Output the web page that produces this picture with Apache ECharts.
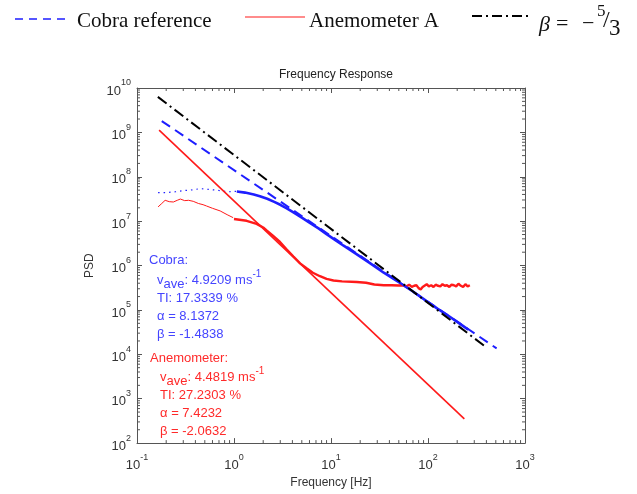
<!DOCTYPE html>
<html><head><meta charset="utf-8">
<script src="https://cdn.jsdelivr.net/npm/echarts@6/dist/echarts.min.js"></script>
<style>html,body{margin:0;padding:0;background:#fff}#c{width:637px;height:494px}</style>
</head><body><div id="c"></div>
<script>
// ---- data ----
const cobraFitF = [0.18, 510];
const cobraFitP = [1.8e9, 1.36e4];
const anemFitF = [0.169, 237];
const anemFitP = [1.12e9, 350];
const refF = [0.164, 403];
const refP = [6.3e9, 1.41e4];

const cobraLowF = [0.165, 0.2, 0.25, 0.3, 0.35, 0.4, 0.45, 0.5, 0.6, 0.7, 0.8, 0.9, 1.0, 1.07];
const cobraLowP = [4.4e7, 4.4e7, 4.6e7, 4.9e7, 5.0e7, 5.2e7, 5.4e7, 5.3e7, 5.1e7, 4.9e7, 4.7e7, 4.6e7, 4.7e7, 4.7e7];
const cobraHighF = [1.07, 1.3, 1.6, 1.85, 2.2, 2.6, 3.0, 3.5, 4.1, 5, 6, 7.5, 9, 11, 13.5, 18, 25, 35, 51, 70, 100, 125, 155, 200, 260];
const cobraHighP = [4.68e7, 4.4e7, 4.0e7, 3.65e7, 3.2e7, 2.72e7, 2.34e7, 1.95e7, 1.58e7, 1.2e7, 9.3e6, 6.8e6, 5.1e6, 3.8e6, 2.8e6, 1.86e6, 1.15e6, 6.9e5, 4.1e5, 2.6e5, 1.5e5, 1.07e5, 7.9e4, 5.4e4, 3.6e4];

const anemLowF = [0.165, 0.18, 0.195, 0.215, 0.237, 0.26, 0.28, 0.31, 0.34, 0.38, 0.43, 0.48, 0.52, 0.6, 0.72, 0.85, 0.98];
const anemLowP = [2.1e7, 2.5e7, 2.95e7, 2.75e7, 2.7e7, 2.95e7, 3.15e7, 2.9e7, 2.95e7, 2.8e7, 2.5e7, 2.35e7, 2.2e7, 1.95e7, 1.7e7, 1.4e7, 1.2e7];
const anemHighF = [1.0, 1.35, 1.71, 2.0, 2.17, 2.5, 2.98, 3.5, 4.1, 4.8, 5.6, 6.5, 7.7, 9, 10.6, 13, 18.4, 23, 28, 35, 42, 50,
  55, 60, 64, 68, 72, 76, 80, 84, 88, 92, 97, 102, 108, 114, 120, 127, 134, 141, 149, 157, 166, 175, 185, 195, 206, 218, 230, 243, 256, 270];
const anemHighP = [1.12e7, 1.02e7, 8.7e6, 7.2e6, 6.2e6, 4.8e6, 3.4e6, 2.3e6, 1.6e6, 1.12e6, 8.7e5, 6.9e5, 5.75e5, 5.0e5, 4.6e5, 4.4e5, 4.25e5, 4.1e5, 3.75e5, 3.6e5, 3.6e5, 3.55e5,
  3.6e5, 3.4e5, 3.7e5, 3.3e5, 3.5e5, 3.6e5, 3.1e5, 2.9e5, 3.3e5, 3.5e5, 3.8e5, 3.4e5, 3.6e5, 3.3e5, 3.7e5, 3.5e5, 3.4e5, 3.8e5, 3.5e5, 3.6e5, 3.3e5, 3.7e5, 3.6e5, 3.4e5, 3.9e5, 3.5e5, 3.3e5, 3.8e5, 3.4e5, 3.6e5];

const xDecades = [-1, 0, 1, 2];          // decades that carry minor ticks
const yDecades = [2, 3, 4, 5, 6, 7, 8, 9];
const minorMult = [2, 3, 4, 5, 6, 7, 8, 9];
const X_MIN = 0.1, X_MAX = 1000, Y_MIN = 100, Y_MAX = 1e10;

const zip = (a, b) => a.map((v, i) => [v, b[i]]);
const BLUE = '#1e1eff', RED = '#ff1a1a', AXIS = '#555';
const minorX = [], minorY = [];
xDecades.forEach(k => minorMult.forEach(m => minorX.push([m * Math.pow(10, k), Y_MIN])));
yDecades.forEach(k => minorMult.forEach(m => minorY.push([X_MIN, m * Math.pow(10, k)])));

const supLabel = {
  b: { fontSize: 13, color: '#333', fontFamily: 'Liberation Sans', verticalAlign: 'bottom', lineHeight: 19 },
  s: { fontSize: 9, color: '#333', fontFamily: 'Liberation Sans', verticalAlign: 'top', lineHeight: 19 }
};
const expFmt = v => '{b|10}{s|' + Math.round(Math.log10(v)) + '}';

const axisCommon = {
  type: 'log', logBase: 10,
  axisLine: { show: true, lineStyle: { color: AXIS, width: 1 } },
  axisTick: { show: true, inside: true, length: 5, lineStyle: { color: AXIS } },
  minorTick: { show: false },
  splitLine: { show: false }, minorSplitLine: { show: false }
};

function tickLine(x1, y1, x2, y2) {
  return { type: 'line', shape: { x1, y1, x2, y2 }, style: { stroke: AXIS, lineWidth: 1 } };
}

const TXT = 13;
const sansFont = TXT + 'px "Liberation Sans"';
function annot(x, y, text, color) {
  return { type: 'text', x, y, style: { text, font: sansFont, fill: color, verticalAlign: 'middle' } };
}
function vave(x, y, val, color) {
  return { type: 'text', x, y, style: { text: '{b|v}{s|ave}{b|: ' + val + ' ms}{p|-1}', verticalAlign: 'middle',
    rich: {
      b: { font: sansFont, fill: color, verticalAlign: 'middle', lineHeight: 22 },
      s: { font: sansFont, fill: color, verticalAlign: 'bottom', lineHeight: 22 },
      p: { font: '10px "Liberation Sans"', fill: color, verticalAlign: 'top', lineHeight: 22 }
    } } };
}

const CB = '#4444ff', CR = '#ff2a2a';
const serif = s => s + 'px "Liberation Serif"';

const chart = echarts.init(document.getElementById('c'), null, { renderer: 'canvas' });
chart.setOption({
  animation: false,
  backgroundColor: '#fff',
  title: {
    text: 'Frequency Response', left: 331, top: 64, textAlign: 'center',
    textStyle: { fontSize: 12, fontWeight: 'normal', color: '#222', fontFamily: 'Liberation Sans' }
  },
  grid: { left: 137, right: 112, top: 88, bottom: 44, containLabel: false },
  xAxis: [
    Object.assign({}, axisCommon, {
      min: X_MIN, max: X_MAX, position: 'bottom',
      name: 'Frequency [Hz]', nameLocation: 'middle', nameGap: 30,
      nameTextStyle: { fontSize: 12, color: '#333', fontFamily: 'Liberation Sans' },
      axisLabel: { formatter: expFmt, rich: supLabel, margin: 10 }
    }),
    Object.assign({}, axisCommon, { min: X_MIN, max: X_MAX, position: 'top', axisLabel: { show: false } })
  ],
  yAxis: [
    Object.assign({}, axisCommon, {
      min: Y_MIN, max: Y_MAX, position: 'left',
      name: 'PSD', nameLocation: 'middle', nameGap: 37, nameRotate: 90,
      nameTextStyle: { fontSize: 12, color: '#333', fontFamily: 'Liberation Sans' },
      axisLabel: { formatter: expFmt, rich: supLabel, margin: 6 }
    }),
    Object.assign({}, axisCommon, { min: Y_MIN, max: Y_MAX, position: 'right', axisLabel: { show: false } })
  ],
  series: [
    { name: 'minorX', type: 'custom', data: minorX, silent: true, clip: false, z: 10,
      renderItem: (params, api) => {
        const b = api.coord([api.value(0), Y_MIN]), t = api.coord([api.value(0), Y_MAX]);
        return { type: 'group', children: [tickLine(b[0], b[1], b[0], b[1] - 3), tickLine(t[0], t[1], t[0], t[1] + 3)] };
      } },
    { name: 'minorY', type: 'custom', data: minorY, silent: true, clip: false, z: 10,
      renderItem: (params, api) => {
        const l = api.coord([X_MIN, api.value(1)]), r = api.coord([X_MAX, api.value(1)]);
        return { type: 'group', children: [tickLine(l[0], l[1], l[0] + 3, l[1]), tickLine(r[0], r[1], r[0] - 3, r[1])] };
      } },
    { name: 'Cobra data low', type: 'line', data: zip(cobraLowF, cobraLowP), symbol: 'none',
      lineStyle: { color: BLUE, width: 1.2, type: [1.5, 4] } },
    { name: 'Cobra data high', type: 'line', data: zip(cobraHighF, cobraHighP), symbol: 'none',
      lineStyle: { color: BLUE, width: 2.6 } },
    { name: 'Anemometer data low', type: 'line', data: zip(anemLowF, anemLowP), symbol: 'none',
      lineStyle: { color: RED, width: 1 } },
    { name: 'Anemometer data high', type: 'line', data: zip(anemHighF, anemHighP), symbol: 'none',
      lineStyle: { color: RED, width: 2.4 } },
    { name: 'Cobra reference', type: 'line', data: zip(cobraFitF, cobraFitP), symbol: 'none',
      lineStyle: { color: BLUE, width: 2, type: [10, 6] } },
    { name: 'Anemometer A', type: 'line', data: zip(anemFitF, anemFitP), symbol: 'none',
      lineStyle: { color: RED, width: 1.6 } },
    { name: 'beta', type: 'line', data: zip(refF, refP), symbol: 'none',
      lineStyle: { color: '#000', width: 2, type: [11, 4, 2, 4] } }
  ],
  graphic: [
    // legend
    { type: 'line', shape: { x1: 15, y1: 19, x2: 66, y2: 19 }, style: { stroke: BLUE, lineWidth: 1.5, lineDash: [8, 6] } },
    { type: 'text', x: 77, y: 21, style: { text: 'Cobra reference', font: serif(21), fill: '#111', verticalAlign: 'middle' } },
    { type: 'line', shape: { x1: 245, y1: 17, x2: 305, y2: 17 }, style: { stroke: RED, lineWidth: 1.2 } },
    { type: 'text', x: 309, y: 21, style: { text: 'Anemometer A', font: serif(21), fill: '#111', verticalAlign: 'middle' } },
    { type: 'line', shape: { x1: 472, y1: 16, x2: 528, y2: 16 }, style: { stroke: '#000', lineWidth: 2, lineDash: [10, 4, 2, 4] } },
    { type: 'text', x: 539, y: 25, style: { text: 'β', font: 'italic ' + serif(22), fill: '#111', verticalAlign: 'middle' } },
    { type: 'text', x: 556, y: 24, style: { text: '=', font: serif(22), fill: '#111', verticalAlign: 'middle' } },
    { type: 'text', x: 582, y: 24, style: { text: '−', font: serif(22), fill: '#111', verticalAlign: 'middle' } },
    { type: 'text', x: 597, y: 12, style: { text: '5', font: serif(17), fill: '#111', verticalAlign: 'middle' } },
    { type: 'text', x: 603, y: 21, style: { text: '/', font: serif(24), fill: '#111', verticalAlign: 'middle' } },
    { type: 'text', x: 609, y: 29, style: { text: '3', font: serif(23), fill: '#111', verticalAlign: 'middle' } },
    // Cobra annotation
    annot(149, 260, 'Cobra:', CB),
    vave(157, 280, '4.9209', CB),
    annot(157, 298, 'TI: 17.3339 %', CB),
    annot(157, 316, 'α = 8.1372', CB),
    annot(157, 334, 'β = -1.4838', CB),
    // Anemometer annotation
    annot(150, 358, 'Anemometer:', CR),
    vave(160, 377, '4.4819', CR),
    annot(160, 395, 'TI: 27.2303 %', CR),
    annot(160, 413, 'α = 7.4232', CR),
    annot(160, 431, 'β = -2.0632', CR)
  ]
});
</script></body></html>
